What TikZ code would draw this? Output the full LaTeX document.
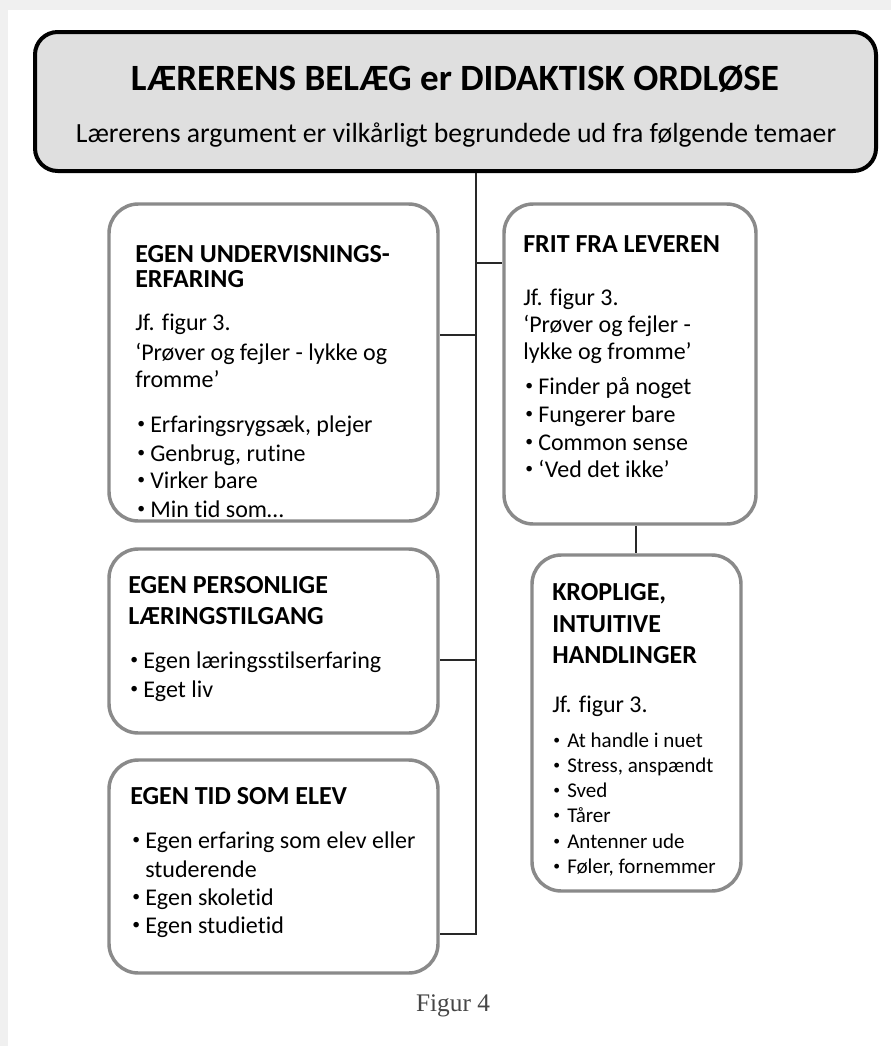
\documentclass[tikz,border=0pt]{standalone}
\usepackage{fontspec}
\setmainfont{Carlito}[Ligatures=NoCommon]
\newfontfamily\capfont{Liberation Serif}
\usetikzlibrary{fit}
\definecolor{bggray}{RGB}{240,240,240}
\definecolor{topfill}{RGB}{223,223,223}
\definecolor{boxgray}{RGB}{138,138,138}
\definecolor{connc}{RGB}{40,40,40}
\definecolor{capc}{RGB}{70,70,70}
\newcommand{\bul}[1]{\makebox[#1][l]{\raisebox{0.13em}{\scalebox{0.65}{•}}}}
\tikzset{
  panel/.style={draw=boxgray, line width=2.6pt, rounded corners=22pt, fill=white, inner sep=0pt},
  topbox/.style={draw=black, line width=3pt, rounded corners=17pt, fill=topfill, inner sep=0pt},
  conn/.style={draw=connc, line width=1.5pt},
  ttl/.style={anchor=base west, inner sep=0pt, font=\bfseries\fontsize{19.5}{19.5}\selectfont},
  txt/.style={anchor=base west, inner sep=0pt, font=\fontsize{18}{18}\selectfont},
  stxt/.style={anchor=base west, inner sep=0pt, font=\fontsize{15.75}{15.75}\selectfont},
}
\begin{document}
\begin{tikzpicture}[x=0.75pt,y=-0.75pt]
\useasboundingbox (0,0) rectangle (891,1046);
\fill[bggray] (0,0) rectangle (891,1046);
\fill[white] (8,10) rectangle (891,1046);

% boxes
\node[topbox, fit={(35,32)(876,171)}] (top) {};
\node[panel, fit={(109,204)(438,521)}] (b1) {};
\node[panel, fit={(109,549)(438,733)}] (b2) {};
\node[panel, fit={(109,760)(438,973)}] (b3) {};
\node[panel, fit={(504,204)(756,524)}] (b4) {};
\node[panel, fit={(532,555)(741,891)}] (b5) {};

% connectors
\coordinate (j4) at (476,263);
\coordinate (j1) at (476,335);
\coordinate (j2) at (476,660);
\coordinate (j3) at (476,934);
\coordinate (c45) at (636,540);
\draw[conn] (top.south -| j3) -- (j3) -- (b3.east |- j3);
\draw[conn] (j4) -- (b4.west |- j4);
\draw[conn] (j1) -- (b1.east |- j1);
\draw[conn] (j2) -- (b2.east |- j2);
\draw[conn] (b4.south -| c45) -- (b5.north -| c45);

% top texts
\node[anchor=base, inner sep=0pt, font=\bfseries\fontsize{27.8}{27.8}\selectfont] (title) at (455,90) {LÆRERENS BELÆG er DIDAKTISK ORDLØSE};
\node[anchor=base, inner sep=0pt, font=\fontsize{20.8}{20.8}\selectfont] (sub) at (456,142) {Lærerens argument er vilkårligt begrundede ud fra følgende temaer};

% box 1
\node[ttl] (t1a) at (135,262) {EGEN UNDERVISNINGS-};
\node[ttl] (t1b) at (135,287) {ERFARING};
\node[txt] (t1c) at (135,330) {Jf. figur 3.};
\node[txt] (t1d) at (135,360) {‘Prøver og fejler - lykke og};
\node[txt] (t1e) at (135,387) {fromme’};
\node[txt] (t1f) at (137,432) {\bul{9.75pt}Erfaringsrygsæk, plejer};
\node[txt] (t1g) at (137,461) {\bul{9.75pt}Genbrug, rutine};
\node[txt] (t1h) at (137,488) {\bul{9.75pt}Virker bare};
\node[txt] (t1i) at (137,517) {\bul{9.75pt}Min tid som…};

% box 4
\node[ttl] (t4a) at (523,252) {FRIT FRA LEVEREN};
\node[txt] (t4b) at (523,305) {Jf. figur 3.};
\node[txt] (t4c) at (523,332) {‘Prøver og fejler -};
\node[txt] (t4d) at (523,359) {lykke og fromme’};
\node[txt] (t4e) at (525,394) {\bul{9.75pt}Finder på noget};
\node[txt] (t4f) at (525,422) {\bul{9.75pt}Fungerer bare};
\node[txt] (t4g) at (525,450) {\bul{9.75pt}Common sense};
\node[txt] (t4h) at (525,477) {\bul{9.75pt}‘Ved det ikke’};

% box 2
\node[ttl] (t2a) at (128,593) {EGEN PERSONLIGE};
\node[ttl] (t2b) at (128,624) {LÆRINGSTILGANG};
\node[txt] (t2c) at (130,668) {\bul{9.75pt}Egen læringsstilserfaring};
\node[txt] (t2d) at (130,697) {\bul{9.75pt}Eget liv};

% box 3
\node[ttl] (t3a) at (130,804) {EGEN TID SOM ELEV};
\node[txt] (t3b) at (132,848) {\bul{9.75pt}Egen erfaring som elev eller};
\node[txt] (t3c) at (145,877) {studerende};
\node[txt] (t3d) at (132,905) {\bul{9.75pt}Egen skoletid};
\node[txt] (t3e) at (132,933) {\bul{9.75pt}Egen studietid};

% box 5
\node[ttl] (t5a) at (552,600) {KROPLIGE,};
\node[ttl] (t5b) at (552,632) {INTUITIVE};
\node[ttl] (t5c) at (552,663) {HANDLINGER};
\node[txt] (t5d) at (552,712) {Jf. figur 3.};
\node[stxt] (t5e) at (553,747) {\bul{10.5pt}At handle i nuet};
\node[stxt] (t5f) at (553,772) {\bul{10.5pt}Stress, anspændt};
\node[stxt] (t5g) at (553,797) {\bul{10.5pt}Sved};
\node[stxt] (t5h) at (553,822) {\bul{10.5pt}Tårer};
\node[stxt] (t5i) at (553,848) {\bul{10.5pt}Antenner ude};
\node[stxt] (t5j) at (553,873) {\bul{10.5pt}Føler, fornemmer};

% caption
\node[anchor=base, inner sep=0pt, text=capc, font=\capfont\fontsize{19}{19}\selectfont] (cap) at (453,1011) {Figur 4};
\end{tikzpicture}
\end{document}
